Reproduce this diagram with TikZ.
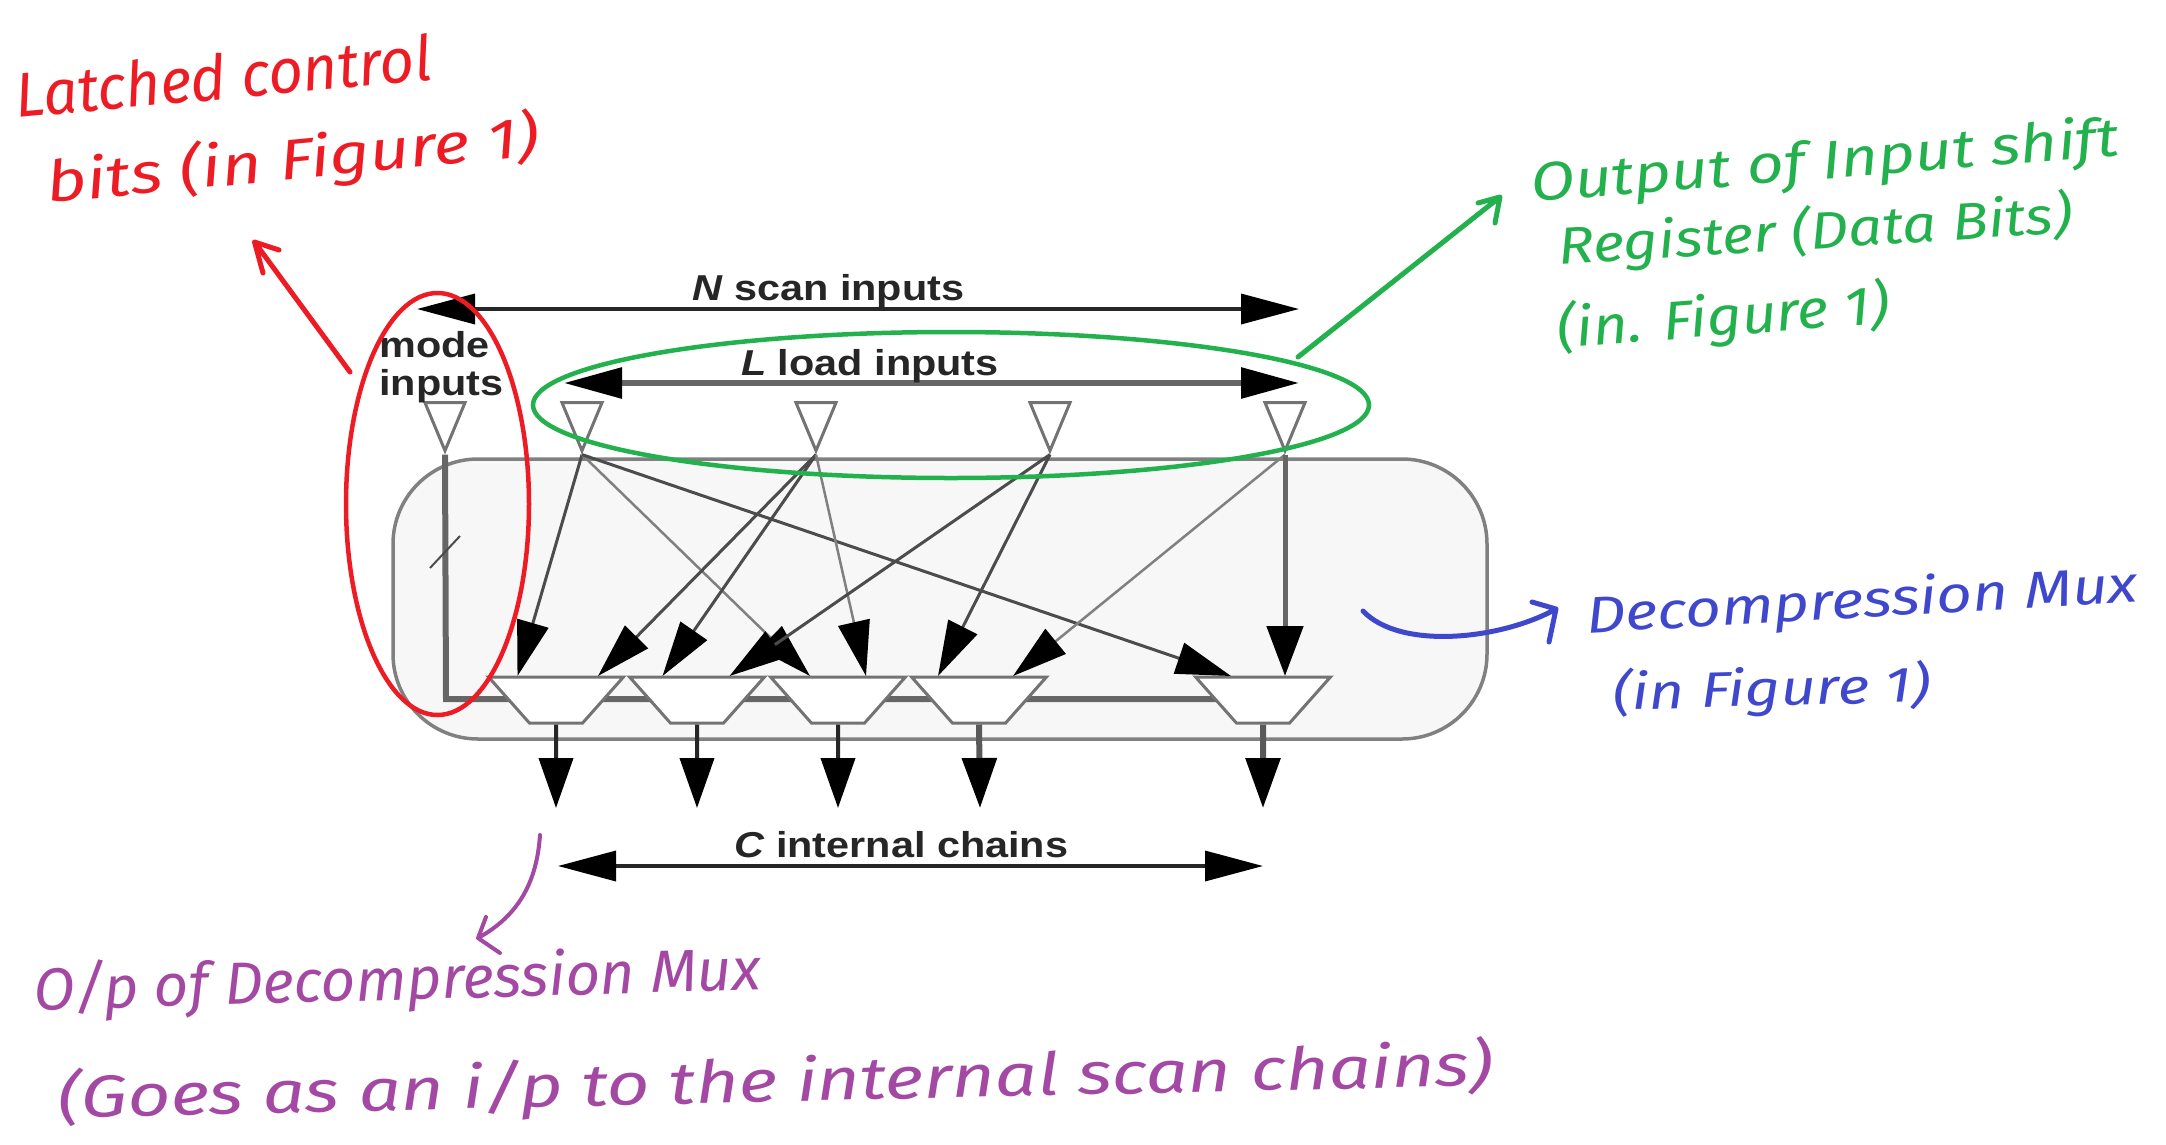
\documentclass[tikz,border=0pt]{standalone}
\usepackage{fontspec}
\usepackage{graphicx}
\usetikzlibrary{arrows.meta,shapes.geometric,calc}
\setmainfont{Liberation Sans}
\newfontfamily\labfont[FakeStretch=1.15]{Liberation Sans}
\newfontfamily\handfont{Fira Sans}
\definecolor{hred}{HTML}{ED1C24}
\definecolor{hgreen}{HTML}{22B14C}
\definecolor{hblue}{HTML}{3F48CC}
\definecolor{hpurple}{HTML}{A349A4}
\newcommand{\hand}[3]{\resizebox{#1pt}{#2pt}{\handfont\itshape #3}}
\tikzset{
 lab/.style={inner sep=0,anchor=base west,font=\labfont\fontsize{36}{36}\selectfont\bfseries,text=black!85},
 handtext/.style={inner sep=0,anchor=base west},
 mux/.style={draw=black!55,line width=3pt,fill=white,trapezium,shape border rotate=180,trapezium stretches=true,trapezium angle=54,minimum width=135pt,minimum height=46pt,inner sep=0pt},
 pin/.style={draw=black!55,line width=3pt,fill=white,isosceles triangle,isosceles triangle stretches=true,shape border rotate=-90,minimum width=40pt,minimum height=48pt,inner sep=0pt},
 dim/.style={line width=3.5pt,draw=black!85,{Triangle[length=58pt,width=30pt,color=black]}-{Triangle[length=58pt,width=30pt,color=black]}},
 wire/.style={line width=3pt,draw=black!70,-{Triangle[length=55pt,width=32pt,color=black]}},
 thinwire/.style={line width=2.5pt,draw=black!50,-{Triangle[length=55pt,width=32pt,color=black]}},
 outwire/.style={line width=4pt,draw=black!85,-{Triangle[length=50pt,width=34pt,color=black]}},
 bus/.style={line width=6pt,draw=black!60},
 pen/.style={line width=5pt,line cap=round,line join=round},
}
\begin{document}
\begin{tikzpicture}[x=1pt,y=-1pt]
\useasboundingbox (0,0) rectangle (2166,1144);
% decompressor body
\node (body) [draw=black!50,line width=3.5pt,fill=black!3,rounded corners=85pt,minimum width=1094pt,minimum height=280pt,inner sep=0] at (940,599) {};
% pins
\node (p0) [pin] at (445,416) {};
\node (p1) [pin] at (582,416) {};
\node (p2) [pin] at (816,416) {};
\node (p3) [pin] at (1050,416) {};
\node (p4) [pin] at (1285,416) {};
% control bus
\coordinate (busc) at (446,699);
\coordinate (buse) at (1240,699);
\draw[bus] (p0.apex) -- (busc) -- (buse);
\coordinate (tk1) at (430,568);
\coordinate (tk2) at (460,536);
\draw[line width=2pt,draw=black!70] (tk1) -- (tk2);
% muxes
\node (m1) [mux] at (556,700) {\phantom{x}};
\node (m2) [mux] at (697,700) {\phantom{x}};
\node (m3) [mux] at (838,700) {\phantom{x}};
\node (m4) [mux] at (979,700) {\phantom{x}};
\node (m5) [mux] at (1263,700) {\phantom{x}};
% mux inputs
\coordinate (i1a) at (517.5,676);
\coordinate (i1b) at (598,676);
\coordinate (i2a) at (662.5,676);
\coordinate (i2b) at (729.5,676);
\coordinate (i3a) at (810,676);
\coordinate (i3b) at (866,676);
\coordinate (i4a) at (938,676);
\coordinate (i4b) at (1013,676);
\coordinate (i5a) at (1231,676);
\coordinate (i5b) at (1285,676);
% crossbar wires
\draw[wire] (p1.apex) -- (i1a);
\draw[thinwire] (p1.apex) -- (i3a);
\draw[wire] (p1.apex) -- (i5a);
\draw[wire] (p2.apex) -- (i1b);
\draw[wire] (p2.apex) -- (i2a);
\draw[thinwire] (p2.apex) -- (i3b);
\draw[wire] (p3.apex) -- (i2b);
\draw[wire] (p3.apex) -- (i4a);
\draw[thinwire] (p4.apex) -- (i4b);
\draw[line width=5pt,draw=black!60,-{Triangle[length=50pt,width=36pt,color=black]}] (p4.apex) -- (i5b);
% outputs
\coordinate (o1) at (556,808);
\coordinate (o2) at (697,808);
\coordinate (o3) at (838,808);
\coordinate (o4) at (980,808);
\coordinate (o5) at (1263,808);
\draw[outwire] (m1.south) -- (o1);
\draw[outwire] (m2.south) -- (o2);
\draw[outwire] (m3.south) -- (o3);
\draw[outwire,line width=6pt,draw=black!65] (m4.south) -- (o4);
\draw[outwire,line width=6pt,draw=black!65] (m5.south) -- (o5);
% dimension arrows
\coordinate (nl) at (417,309); \coordinate (nr) at (1299,309);
\coordinate (ll) at (564,383); \coordinate (lr) at (1299,383);
\coordinate (cl) at (558,866); \coordinate (cr) at (1263,866);
\draw[dim] (nl) -- (nr);
\draw[dim,line width=6pt,draw=black!60] (ll) -- (lr);
\draw[dim] (cl) -- (cr);
% printed labels
\node (tn) [lab] at (692,300) {\textit{N} scan inputs};
\node (tl) [lab] at (741,375) {\textit{L} load inputs};
\node (tc) [lab] at (734,857) {\textit{C} internal chains};
\node (tm1) [lab] at (379,357) {mode};
\node (tm2) [lab] at (379,395) {inputs};
% red annotation
\node (redring) [draw=hred,line width=4.5pt,ellipse,minimum width=183pt,minimum height=422pt,inner sep=0] at (437.5,504) {};
\node (r1) [handtext,text=hred,rotate=5.2] at (17,118) {\hand{418}{47}{Latched control}};
\node (r2) [handtext,text=hred,rotate=5.5] at (48,203) {\hand{495}{48}{bits (in Figure 1)}};
\coordinate (ra) at (350,372); \coordinate (rb) at (254.5,242);
\coordinate (rc) at (263,273); \coordinate (rd) at (279,250);
\draw[pen,hred] (ra) -- (rb) (rc) -- (rb) -- (rd);
% green annotation
\node (greenring) [draw=hgreen,line width=4.5pt,ellipse,minimum width=836pt,minimum height=146pt,inner sep=0] at (951,405) {};
\node (g1) [handtext,text=hgreen,rotate=4.5] at (1532,202) {\hand{590}{42}{Output of Input shift}};
\node (g2) [handtext,text=hgreen,rotate=3.6] at (1559,265) {\hand{515}{44}{Register (Data Bits)}};
\node (g3) [handtext,text=hgreen,rotate=4.3] at (1558,348) {\hand{333}{46}{(in. Figure 1)}};
\coordinate (ga) at (1298,357); \coordinate (gb) at (1500,197);
\coordinate (gc) at (1495,223); \coordinate (gd) at (1478,203);
\draw[pen,hgreen] (ga) -- (gb) (gc) -- (gb) -- (gd);
% blue annotation
\node (b1) [handtext,text=hblue,rotate=3.2] at (1587,633) {\hand{552}{40}{Decompression Mux}};
\node (b2) [handtext,text=hblue,rotate=1.5] at (1613,710) {\hand{318}{42}{(in Figure 1)}};
\coordinate (ba) at (1363,611); \coordinate (bb) at (1556,609);
\coordinate (bc) at (1532,602); \coordinate (bd) at (1549,642);
\draw[pen,hblue] (ba) .. controls (1400,650) and (1500,640) .. (bb) (bc) -- (bb) -- (bd);
% purple annotation
\node (v1) [handtext,text=hpurple,rotate=1.6] at (34,1010) {\hand{727}{48}{O/p of Decompression Mux}};
\node (v2) [handtext,text=hpurple,rotate=1.3] at (58,1118) {\hand{1435}{50}{(Goes as an i/p to the internal scan chains)}};
\coordinate (va) at (540,835); \coordinate (vb) at (478,938);
\coordinate (vc) at (486,917); \coordinate (vd) at (500,953);
\draw[pen,hpurple,line width=4pt] (va) .. controls (537,880) and (520,915) .. (vb) (vc) -- (vb) -- (vd);
\end{tikzpicture}
\end{document}
